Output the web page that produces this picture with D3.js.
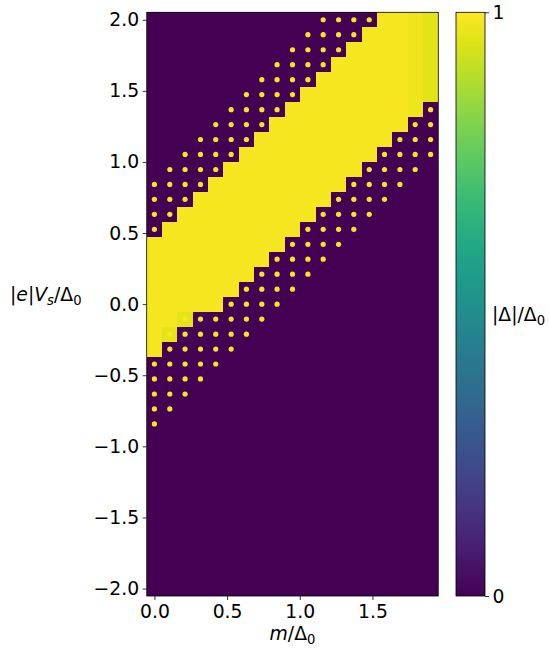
<!DOCTYPE html>
<html>
<head>
<meta charset="utf-8">
<script src="https://cdn.jsdelivr.net/npm/d3@7"></script>
<style>
  body { margin: 0; background: #fff; }
  svg { display: block; }
  text { font-family: "DejaVu Sans", sans-serif; fill: #000; }
</style>
</head>
<body>
<svg id="chart" width="549" height="648"></svg>
<script>
// Mass values m/Δ0 (columns) and bias values |e|Vs/Δ0 (rows, bottom to top)
const M_VALUES = [0, 0.106, 0.211, 0.317, 0.422, 0.528, 0.633, 0.739, 0.844, 0.95,
                  1.056, 1.161, 1.267, 1.372, 1.478, 1.583, 1.689, 1.794, 1.9];
const V_VALUES = [-2, -1.895, -1.789, -1.684, -1.579, -1.474, -1.368, -1.263, -1.158, -1.053,
                  -0.947, -0.842, -0.737, -0.632, -0.526, -0.421, -0.316, -0.211, -0.105, 0,
                  0.105, 0.211, 0.316, 0.421, 0.526, 0.632, 0.737, 0.842, 0.947, 1.053,
                  1.158, 1.263, 1.368, 1.474, 1.579, 1.684, 1.789, 1.895, 2];

// Gap magnitude |Δ|/Δ0 per cell, coded by character
const GAP_LEVELS = { ".": 0, ",": 0.015, "g": 0.96, "c": 0.955, "b": 0.975, "#": 0.985 };

// One string per bias row, top row (V = 2) first, one character per mass column
const GAP_ROWS = [
  "...............##bc",
  "..............###bc",
  ".............####bc",
  "............#####bc",
  "...........######bc",
  "..........#######bc",
  ".........########b.",
  "........#########..",
  ".......#########...",
  "......#########....",
  ".....#########.....",
  "....#########......",
  "...#########.......",
  "..#########........",
  ".#########.........",
  "#########..........",
  "########...........",
  "#######............",
  "######.............",
  "#####..............",
  "##g,...............",
  "#g,................",
  "#..................",
  "...................",
  "...................",
  "...................",
  "...................",
  "...................",
  "...................",
  "...................",
  "...................",
  "...................",
  "...................",
  "...................",
  "...................",
  "...................",
  "...................",
  "...................",
  "..................."
];

// Marked grid points ("o"), same layout as GAP_ROWS
const DOT_ROWS = [
  "...........oooo....",
  "..........oooo.....",
  ".........oooo......",
  "........oooo.......",
  ".......oooo........",
  "......oooo.........",
  ".....oooo.........o",
  "....oooo.........oo",
  "...oooo.........ooo",
  "..oooo.........oooo",
  ".oooo.........oooo.",
  "oooo.........oooo..",
  "ooo.........oooo...",
  "oo.........oooo....",
  "o.........oooo.....",
  ".........oooo......",
  "........oooo.......",
  ".......oooo........",
  "......oooo.........",
  ".....oooo..........",
  "..oooooo...........",
  ".oooooo............",
  ".ooooo.............",
  "ooooo..............",
  "oooo...............",
  "ooo................",
  "oo.................",
  "o..................",
  "...................",
  "...................",
  "...................",
  "...................",
  "...................",
  "...................",
  "...................",
  "...................",
  "...................",
  "...................",
  "..................."
];

const X_TICKS = [0, 0.5, 1.0, 1.5];
const Y_TICKS = [-2, -1.5, -1, -0.5, 0, 0.5, 1, 1.5, 2];
const CBAR_TICKS = [0, 1];

const svg = d3.select("#chart");
const plot = { left: 146.7, right: 438.3, top: 12.3, bottom: 596 };
const cbar = { left: 456, width: 29 };
const FONT = 18.8;

// cell boundaries halfway between neighbouring grid values
function edges(c) {
  const n = c.length;
  const e = [c[0] - (c[1] - c[0]) / 2];
  for (let i = 1; i < n; i++) e.push((c[i - 1] + c[i]) / 2);
  e.push(c[n - 1] + (c[n - 1] - c[n - 2]) / 2);
  return e;
}
const xE = edges(M_VALUES), yE = edges(V_VALUES);

const x = d3.scaleLinear().domain([xE[0], xE[xE.length - 1]]).range([plot.left, plot.right]);
const y = d3.scaleLinear().domain([yE[0], yE[yE.length - 1]]).range([plot.bottom, plot.top]);
const color = d3.scaleSequential(d3.interpolateViridis).domain([0, 1]);

// heatmap cells
const nV = V_VALUES.length;
const cells = [];
GAP_ROWS.forEach((row, r) => {
  const j = nV - 1 - r;
  Array.from(row).forEach((ch, k) => cells.push({ k, j, v: GAP_LEVELS[ch] }));
});
svg.append("g")
  .selectAll("rect")
  .data(cells)
  .join("rect")
  .attr("x", d => x(xE[d.k]))
  .attr("width", d => x(xE[d.k + 1]) - x(xE[d.k]))
  .attr("y", d => y(yE[d.j + 1]))
  .attr("height", d => y(yE[d.j]) - y(yE[d.j + 1]))
  .attr("fill", d => color(d.v))
  .attr("shape-rendering", "crispEdges");

// marked points
const dots = [];
DOT_ROWS.forEach((row, r) => {
  const j = nV - 1 - r;
  Array.from(row).forEach((ch, k) => { if (ch === "o") dots.push({ m: M_VALUES[k], v: V_VALUES[j] }); });
});
svg.append("g")
  .selectAll("circle")
  .data(dots)
  .join("circle")
  .attr("cx", d => x(d.m))
  .attr("cy", d => y(d.v))
  .attr("r", 2.6)
  .attr("fill", "#f8e621");

// frame
svg.append("rect")
  .attr("x", plot.left).attr("y", plot.top)
  .attr("width", plot.right - plot.left).attr("height", plot.bottom - plot.top)
  .attr("fill", "none").attr("stroke", "#000").attr("stroke-width", 0.8);

function styleAxis(g) {
  g.select(".domain").remove();
  g.selectAll(".tick line").attr("stroke", "#000").attr("stroke-width", 0.8);
  g.selectAll(".tick text").attr("font-size", FONT).attr("font-family", "DejaVu Sans, sans-serif").attr("fill", "#000");
}

const fmt = d3.format(".1f");
svg.append("g")
  .attr("transform", `translate(0,${plot.bottom})`)
  .call(d3.axisBottom(x).tickValues(X_TICKS).tickFormat(fmt).tickSize(4).tickPadding(5))
  .call(styleAxis);

svg.append("g")
  .attr("transform", `translate(${plot.left},0)`)
  .call(d3.axisLeft(y).tickValues(Y_TICKS).tickFormat(fmt).tickSize(4).tickPadding(3.5))
  .call(styleAxis);

// text with italic and subscript pieces
function mathText(sel, parts) {
  let shifted = false;
  parts.forEach(p => {
    const t = sel.append("tspan").text(p.t);
    if (p.it) t.attr("font-style", "italic");
    if (p.sub && !shifted) { t.attr("dy", FONT * 0.22).attr("font-size", FONT * 0.7); shifted = true; }
    else if (p.sub) { t.attr("font-size", FONT * 0.7); }
    else if (shifted) { t.attr("dy", -FONT * 0.22); shifted = false; }
  });
}

mathText(
  svg.append("text").attr("x", 10).attr("y", 301).attr("font-size", FONT),
  [{ t: "|" }, { t: "e", it: true }, { t: "|" }, { t: "V", it: true }, { t: "s", it: true, sub: true },
   { t: "/Δ" }, { t: "0", sub: true }]
);

mathText(
  svg.append("text").attr("x", (plot.left + plot.right) / 2).attr("y", 640)
    .attr("text-anchor", "middle").attr("font-size", FONT),
  [{ t: "m", it: true }, { t: "/Δ" }, { t: "0", sub: true }]
);

// colour bar
const defs = svg.append("defs");
const grad = defs.append("linearGradient").attr("id", "viridis-bar")
  .attr("x1", 0).attr("y1", 1).attr("x2", 0).attr("y2", 0);
d3.range(0, 1.0001, 0.05).forEach(t => {
  grad.append("stop").attr("offset", t).attr("stop-color", color(t));
});
svg.append("rect")
  .attr("x", cbar.left).attr("y", plot.top)
  .attr("width", cbar.width).attr("height", plot.bottom - plot.top)
  .attr("fill", "url(#viridis-bar)")
  .attr("stroke", "#000").attr("stroke-width", 0.8);

const cScale = d3.scaleLinear().domain([0, 1]).range([plot.bottom, plot.top]);
svg.append("g")
  .attr("transform", `translate(${cbar.left + cbar.width},0)`)
  .call(d3.axisRight(cScale).tickValues(CBAR_TICKS).tickFormat(d3.format("d")).tickSize(4).tickPadding(3.5))
  .call(styleAxis);

mathText(
  svg.append("text").attr("x", 492).attr("y", 321).attr("font-size", FONT),
  [{ t: "|Δ|/Δ" }, { t: "0", sub: true }]
);
</script>
</body>
</html>
